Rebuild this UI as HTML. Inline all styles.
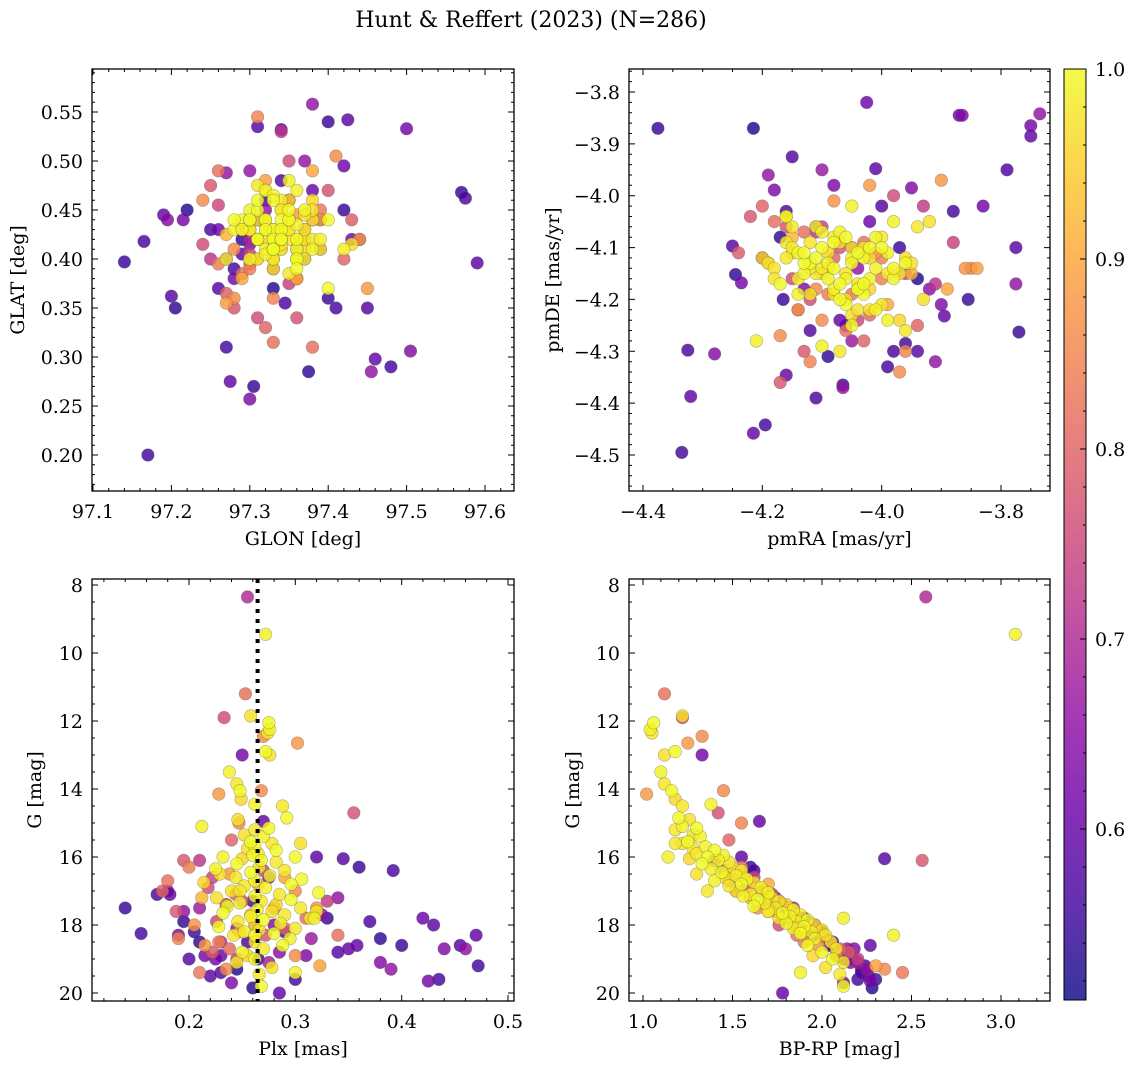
<!DOCTYPE html>
<html>
<head>
<meta charset="utf-8">
<style>
html,body{margin:0;padding:0;background:#fff;}
svg{display:block;}
text{font-family:"DejaVu Serif","Liberation Serif",serif;fill:#000;}
</style>
</head>
<body>
<svg id="fig" xmlns="http://www.w3.org/2000/svg" width="1136" height="1068" viewBox="0 0 1136 1068">
<text x="531" y="27" font-size="22" text-anchor="middle">Hunt &amp; Reffert (2023) (N=286)</text>
</svg>
<script>
// ---- data: per-star values (same order in every array) ----
const prob = [
0.55,0.56,0.57,0.60,0.64,0.58,0.54,0.62,0.53,0.60,
0.56,0.63,0.55,0.58,0.60,0.57,0.54,0.66,0.55,0.61,
0.59,0.56,0.64,0.58,0.66,0.60,0.56,0.62,0.64,0.55,
0.57,0.59,0.66,0.62,0.60,0.66,0.55,0.62,0.58,0.66,
0.63,0.57,0.68,0.61,0.54,0.65,0.59,0.67,0.56,0.62,
0.58,0.64,0.55,0.60,0.66,0.53,0.61,0.67,0.57,0.63,
0.70,0.82,0.76,0.86,0.88,0.86,0.88,0.77,0.85,0.80,
0.78,0.84,0.88,0.74,0.82,0.90,0.76,0.86,0.80,0.92,
0.73,0.84,0.88,0.78,0.91,0.82,0.75,0.87,0.80,0.90,
0.77,0.85,0.72,0.88,0.81,0.79,0.86,0.74,0.89,0.83,
0.72,0.80,0.87,0.76,0.84,0.90,0.78,0.82,0.86,0.75,
0.99,0.97,1.0,0.99,0.98,1.0,0.97,0.99,0.98,1.0,
0.96,0.99,0.98,1.0,0.97,0.99,1.0,0.98,0.97,0.99,
1.0,0.98,0.99,0.97,1.0,0.98,0.99,1.0,0.96,0.99,
0.98,1.0,0.97,0.99,0.98,1.0,0.97,0.99,0.98,1.0,
0.99,0.96,1.0,0.98,0.99,0.97,1.0,0.98,0.99,0.97,
1.0,0.98,0.99,0.96,1.0,0.98,0.99,0.97,1.0,0.98,
0.99,0.97,1.0,0.98,0.99,0.96,1.0,0.98,0.97,0.99,
1.0,0.98,0.99,0.97,1.0,0.98,0.99,0.96,1.0,0.98,
0.97,0.99,0.98,1.0,0.99,0.98,0.99,0.97,0.98,0.99];
const glon = [
97.14,97.17,97.165,97.19,97.195,97.20,97.205,97.215,97.22,97.275,
97.27,97.30,97.305,97.31,97.34,97.345,97.375,97.38,97.40,97.42,
97.425,97.41,97.44,97.45,97.455,97.46,97.48,97.50,97.505,97.57,
97.575,97.59,97.27,97.28,97.29,97.30,97.40,97.43,97.26,97.32,
97.37,97.25,97.33,97.38,97.29,97.36,97.31,97.39,97.28,97.35,
97.34,97.30,97.42,97.27,97.37,97.33,97.26,97.39,97.32,97.36,
97.30,97.26,97.35,97.24,97.45,97.28,97.39,97.36,97.31,97.42,
97.25,97.33,97.27,97.38,97.29,97.36,97.24,97.41,97.32,97.27,
97.35,97.30,97.44,97.28,97.34,97.38,97.26,97.31,97.37,97.29,
97.40,97.33,97.25,97.36,97.30,97.43,97.28,97.35,97.32,97.39,
97.34,97.27,97.37,97.31,97.26,97.38,97.29,97.33,97.36,97.30,
97.33,97.35,97.31,97.36,97.34,97.32,97.38,97.30,97.35,97.33,
97.37,97.29,97.34,97.36,97.32,97.39,97.31,97.35,97.33,97.30,
97.36,97.34,97.38,97.32,97.35,97.31,97.37,97.33,97.29,97.36,
97.34,97.40,97.32,97.35,97.30,97.33,97.38,97.31,97.36,97.34,
97.28,97.35,97.33,97.37,97.32,97.30,97.36,97.34,97.42,97.31,
97.35,97.33,97.29,97.38,97.34,97.32,97.36,97.30,97.35,97.33,
97.37,97.31,97.34,97.39,97.32,97.36,97.28,97.35,97.33,97.30,
97.34,97.37,97.32,97.35,97.31,97.38,97.33,97.36,97.30,97.34,
97.43,97.27,97.35,97.40,97.33,97.31,97.36,97.37,97.34,97.32];
const glat = [
0.397,0.20,0.418,0.445,0.44,0.362,0.35,0.44,0.45,0.275,
0.31,0.257,0.27,0.535,0.532,0.355,0.285,0.558,0.54,0.495,
0.542,0.35,0.42,0.35,0.285,0.298,0.29,0.533,0.306,0.468,
0.462,0.396,0.488,0.38,0.405,0.49,0.36,0.42,0.37,0.45,
0.40,0.43,0.39,0.47,0.42,0.38,0.44,0.41,0.39,0.46,
0.48,0.415,0.45,0.40,0.50,0.37,0.43,0.44,0.46,0.41,
0.42,0.49,0.50,0.46,0.37,0.36,0.44,0.34,0.545,0.40,
0.475,0.40,0.355,0.44,0.385,0.38,0.415,0.505,0.33,0.425,
0.46,0.39,0.42,0.35,0.41,0.31,0.455,0.40,0.43,0.38,
0.47,0.36,0.40,0.445,0.395,0.44,0.41,0.375,0.48,0.45,
0.53,0.365,0.42,0.34,0.395,0.49,0.43,0.315,0.38,0.405,
0.43,0.44,0.42,0.41,0.45,0.43,0.44,0.40,0.42,0.46,
0.41,0.44,0.43,0.40,0.47,0.42,0.45,0.43,0.39,0.44,
0.42,0.46,0.41,0.43,0.44,0.40,0.45,0.42,0.43,0.47,
0.41,0.44,0.42,0.48,0.43,0.41,0.45,0.42,0.40,0.44,
0.43,0.46,0.41,0.42,0.44,0.43,0.39,0.45,0.41,0.42,
0.44,0.40,0.43,0.46,0.42,0.44,0.41,0.43,0.45,0.42,
0.40,0.44,0.43,0.41,0.47,0.42,0.44,0.43,0.40,0.45,
0.42,0.43,0.41,0.44,0.46,0.42,0.43,0.40,0.44,0.42,
0.415,0.40,0.385,0.37,0.465,0.475,0.435,0.445,0.415,0.405];
const pmra = [
-4.375,-4.335,-4.325,-4.32,-4.28,-4.25,-4.245,-4.235,-4.215,-4.215,
-4.195,-4.18,-4.165,-4.15,-4.16,-4.11,-4.09,-4.065,-4.065,-4.025,
-4.01,-3.96,-3.95,-3.94,-3.91,-3.895,-3.88,-3.87,-3.865,-3.855,
-3.79,-3.775,-3.775,-3.75,-3.75,-3.735,-3.77,-3.83,-4.12,-4.04,
-4.08,-3.98,-4.14,-4.02,-4.17,-3.92,-4.06,-4.10,-3.99,-4.20,
-4.00,-4.13,-3.97,-4.07,-4.19,-3.94,-4.11,-4.05,-4.16,-3.90,
-4.05,-4.18,-4.12,-3.85,-4.02,-4.10,-3.90,-4.16,-3.96,-4.08,
-4.22,-4.00,-4.14,-3.88,-4.06,-4.19,-3.98,-4.11,-4.03,-4.15,
-3.93,-4.09,-4.01,-4.17,-3.95,-4.13,-4.04,-3.86,-4.20,-3.99,
-4.07,-4.12,-3.91,-4.16,-4.02,-4.24,-3.97,-4.10,-3.84,-4.05,
-4.11,-3.94,-4.08,-4.15,-4.00,-3.89,-4.13,-4.03,-4.17,-3.96,
-4.05,-4.10,-4.02,-4.08,-4.00,-4.12,-4.06,-3.98,-4.14,-4.04,
-4.09,-4.01,-4.16,-4.07,-3.96,-4.11,-4.03,-4.18,-4.05,-3.99,
-4.13,-4.08,-4.02,-4.15,-4.06,-3.97,-4.10,-4.04,-4.20,-4.01,
-4.12,-4.07,-3.95,-4.09,-4.03,-4.17,-4.05,-3.99,-4.11,-4.06,
-4.14,-4.02,-4.08,-3.94,-4.04,-4.19,-4.10,-4.00,-4.13,-4.07,
-4.03,-4.16,-3.98,-4.09,-4.05,-4.12,-4.01,-4.08,-3.96,-4.15,
-4.06,-4.04,-4.11,-3.99,-4.07,-4.02,-4.14,-4.10,-3.93,-4.05,
-4.08,-4.18,-4.03,-4.12,-4.00,-4.06,-4.09,-3.97,-4.13,-4.04,
-3.92,-4.21,-4.07,-4.16,-4.05,-3.96,-4.10,-4.02,-4.15,-3.98];
const pmde = [
-3.87,-4.495,-4.298,-4.387,-4.305,-4.097,-4.152,-4.168,-3.87,-4.458,
-4.442,-3.989,-4.20,-3.925,-4.346,-4.39,-4.31,-4.37,-4.365,-3.82,
-3.948,-4.285,-3.985,-4.30,-4.32,-4.232,-4.03,-3.845,-3.845,-4.20,
-3.95,-4.10,-4.17,-3.865,-3.885,-3.842,-4.263,-4.02,-4.26,-4.14,
-3.98,-4.30,-4.22,-4.05,-4.08,-4.18,-4.25,-3.95,-4.33,-4.12,
-4.02,-4.18,-4.10,-4.24,-3.96,-4.16,-4.06,-4.28,-4.03,-4.21,
-4.10,-4.05,-4.20,-4.14,-3.98,-4.24,-3.97,-4.06,-4.30,-4.12,
-4.04,-4.16,-4.22,-4.09,-4.26,-4.13,-4.00,-4.18,-4.28,-4.08,
-4.02,-4.19,-4.11,-4.36,-4.15,-4.07,-4.24,-4.14,-4.02,-4.21,
-4.10,-4.32,-4.17,-4.04,-4.23,-4.11,-4.34,-4.06,-4.14,-4.19,
-4.07,-4.25,-4.01,-4.16,-4.12,-4.18,-4.30,-4.09,-4.27,-4.15,
-4.12,-4.15,-4.10,-4.18,-4.08,-4.13,-4.20,-4.05,-4.16,-4.11,
-4.14,-4.22,-4.09,-4.17,-4.12,-4.06,-4.19,-4.14,-4.10,-4.24,
-4.13,-4.08,-4.16,-4.11,-4.21,-4.15,-4.07,-4.18,-4.12,-4.14,
-4.09,-4.20,-4.13,-4.16,-4.10,-4.17,-4.23,-4.11,-4.15,-4.08,
-4.19,-4.12,-4.14,-4.06,-4.18,-4.13,-4.10,-4.21,-4.15,-4.09,
-4.17,-4.12,-4.16,-4.11,-4.25,-4.14,-4.08,-4.19,-4.13,-4.10,
-4.16,-4.22,-4.12,-4.15,-4.07,-4.18,-4.11,-4.14,-4.20,-4.13,
-4.09,-4.16,-4.12,-4.19,-4.10,-4.15,-4.13,-4.24,-4.11,-4.17,
-4.05,-4.28,-4.30,-4.04,-4.02,-4.26,-4.29,-4.22,-4.06,-4.14];
const plx = [
0.14,0.155,0.17,0.182,0.19,0.20,0.21,0.225,0.26,0.285,
0.30,0.31,0.33,0.34,0.35,0.37,0.38,0.39,0.40,0.42,
0.43,0.435,0.44,0.455,0.46,0.47,0.472,0.425,0.38,0.36,
0.392,0.32,0.34,0.25,0.27,0.195,0.205,0.215,0.23,0.245,
0.235,0.255,0.275,0.18,0.195,0.285,0.22,0.315,0.26,0.275,
0.345,0.28,0.265,0.358,0.325,0.245,0.23,0.21,0.29,0.24,
0.255,0.253,0.233,0.270,0.302,0.268,0.228,0.355,0.247,0.240,
0.195,0.200,0.238,0.222,0.180,0.265,0.218,0.300,0.244,0.212,
0.330,0.235,0.280,0.188,0.258,0.310,0.226,0.205,0.290,0.248,
0.272,0.190,0.230,0.215,0.238,0.222,0.300,0.245,0.323,0.210,
0.210,0.175,0.320,0.262,0.228,0.290,0.250,0.340,0.235,0.270,
0.272,0.258,0.275,0.276,0.274,0.272,0.276,0.238,0.245,0.248,
0.249,0.262,0.288,0.292,0.246,0.212,0.275,0.262,0.252,0.270,
0.258,0.278,0.262,0.255,0.282,0.265,0.260,0.300,0.250,0.268,
0.282,0.245,0.266,0.225,0.290,0.258,0.229,0.276,0.244,0.306,
0.262,0.214,0.296,0.252,0.272,0.240,0.322,0.285,0.262,0.226,
0.296,0.268,0.248,0.282,0.236,0.305,0.264,0.278,0.232,0.290,
0.258,0.314,0.270,0.246,0.286,0.262,0.228,0.300,0.266,0.252,
0.280,0.242,0.295,0.262,0.288,0.270,0.250,0.255,0.262,0.245,
0.278,0.300,0.266,0.268,0.318,0.320,0.232,0.305,0.248,0.262];
const gmag = [
17.5,18.25,17.1,17.1,18.3,19.0,18.5,19.0,19.85,20.0,
19.6,18.9,17.8,18.8,18.7,17.9,18.4,19.3,18.6,17.8,
18.0,19.6,18.7,18.6,18.7,18.3,19.2,19.65,19.1,16.3,
16.4,16.0,17.2,13.0,14.95,17.6,18.2,18.9,19.4,18.1,
17.4,18.5,19.1,17.0,17.9,18.8,19.5,18.4,17.3,16.6,
16.05,18.0,19.0,18.6,17.7,19.3,18.9,17.5,18.2,19.7,
8.35,11.2,11.9,12.45,12.65,14.05,14.15,14.7,15.0,15.5,
16.1,16.3,16.5,16.6,16.7,16.8,16.9,17.0,17.1,17.2,
17.3,17.4,17.5,17.6,17.7,17.8,17.9,18.0,18.1,18.2,
18.3,18.4,18.5,18.6,18.7,18.8,18.9,19.0,19.2,19.4,
16.1,17.0,17.5,18.0,18.5,16.6,17.3,18.3,19.3,16.4,
9.45,11.85,12.05,12.25,12.35,12.9,13.0,13.5,13.85,14.05,
14.3,14.45,14.5,14.85,14.9,15.1,15.15,15.2,15.35,15.4,
15.55,15.6,15.7,15.75,15.8,15.9,15.95,16.0,16.05,16.1,
16.15,16.2,16.3,16.35,16.4,16.45,16.5,16.55,16.6,16.65,
16.7,16.75,16.8,16.85,16.9,17.0,17.05,17.1,17.15,17.2,
17.25,17.3,17.35,17.4,17.45,17.5,17.55,17.6,17.65,17.7,
17.75,17.8,17.85,17.9,17.95,18.0,18.05,18.1,18.15,18.2,
18.25,18.3,18.4,18.5,18.6,18.7,18.8,18.9,19.0,19.1,
19.25,19.4,19.45,19.8,17.8,17.6,16.0,15.6,17.0,18.3];
const bprp = [
1.82,2.00,1.72,1.70,1.98,2.15,2.05,2.12,2.28,1.78,
2.20,2.12,1.90,2.10,2.08,1.92,2.02,2.25,2.06,1.86,
1.96,2.30,2.18,2.04,2.14,1.95,2.24,2.27,2.16,1.60,
1.62,1.55,1.74,1.33,1.65,1.80,2.00,2.10,2.22,1.94,
1.78,2.06,2.20,1.68,1.88,2.14,2.26,2.02,1.76,1.58,
2.35,1.92,2.18,2.27,1.82,2.22,2.08,1.84,1.98,2.12,
2.58,1.12,1.22,1.33,1.25,1.45,1.02,1.42,1.55,1.48,
2.56,1.55,1.50,1.62,1.48,1.70,1.58,1.66,1.72,1.60,
1.75,1.68,1.82,1.74,1.85,1.78,1.90,1.84,1.95,1.88,
2.00,1.92,2.05,1.98,2.10,2.15,2.08,2.20,2.30,2.45,
1.40,1.52,1.64,1.76,1.90,1.56,1.70,1.86,2.35,1.45,
3.08,1.22,1.06,1.04,1.05,1.18,1.12,1.10,1.12,1.16,
1.18,1.38,1.22,1.20,1.26,1.22,1.30,1.18,1.28,1.32,
1.25,1.18,1.35,1.28,1.40,1.30,1.45,1.36,1.26,1.42,
1.48,1.33,1.50,1.38,1.55,1.44,1.30,1.52,1.46,1.58,
1.40,1.62,1.55,1.48,1.66,1.52,1.70,1.60,1.56,1.72,
1.64,1.76,1.68,1.80,1.62,1.74,1.84,1.70,1.78,1.88,
1.82,1.76,1.92,1.86,1.80,1.96,1.90,1.84,2.00,1.94,
1.88,2.02,1.96,2.05,1.92,2.08,2.00,1.95,2.06,2.12,
2.02,1.88,2.10,2.12,2.12,1.70,1.14,1.22,1.36,2.40];
const plxLine = 0.2645;
const cbTicks = [0.6,0.7,0.8,0.9,1.0];
const vmin = 0.51, vmax = 1.0;

// ---- helpers ----
const NS = 'http://www.w3.org/2000/svg';
const svg = document.getElementById('fig');
function mk(tag, attrs, parent){
  const e = document.createElementNS(NS, tag);
  for (const k in attrs) e.setAttribute(k, attrs[k]);
  (parent||svg).appendChild(e);
  return e;
}
function lin(v0,p0,v1,p1){
  const k=(p1-p0)/(v1-v0);
  const f=v=>p0+(v-v0)*k;
  f.inv=p=>v0+(p-p0)/k;
  return f;
}
const PL = [[0,'#0d0887'],[0.1,'#41049d'],[0.2,'#6a00a8'],[0.3,'#8f0da4'],[0.4,'#b12a90'],[0.5,'#cc4778'],[0.6,'#e16462'],[0.7,'#f2844b'],[0.8,'#fca636'],[0.9,'#fcce25'],[1.0,'#f0f921']];
function hex(h){return [parseInt(h.slice(1,3),16),parseInt(h.slice(3,5),16),parseInt(h.slice(5,7),16)];}
function plasma(t){
  t=Math.max(0,Math.min(1,t));
  for(let i=0;i<PL.length-1;i++){
    if(t<=PL[i+1][0]){
      const a=hex(PL[i][1]), b=hex(PL[i+1][1]);
      const u=(t-PL[i][0])/(PL[i+1][0]-PL[i][0]);
      return 'rgb('+a.map((c,j)=>Math.round(c+(b[j]-c)*u)).join(',')+')';
    }
  }
  return PL[PL.length-1][1];
}
function fmt(v,d){ const s=v.toFixed(d); return s.replace('-','\u2212'); }
function range(a,b,step){
  const out=[]; const s=Math.ceil(a/step-1e-6);
  for(let i=s;i*step<=b+1e-9;i++) out.push(+(i*step).toFixed(6));
  return out;
}

const order = prob.map((p,i)=>i).sort((a,b)=>prob[a]-prob[b]);
const FS = 19;

function panel(cfg){
  const g = mk('g',{});
  
  
  const [x0,y0,x1,y1]=cfg.box;
  const xs=cfg.xs, ys=cfg.ys;
  const clipId='clip-'+cfg.name;
  const cp=mk('clipPath',{id:clipId},g);
  mk('rect',{x:x0,y:y0,width:x1-x0,height:y1-y0},cp);
  const pts=mk('g',{'clip-path':'url(#'+clipId+')'},g);
  
  
  for(const i of order){
    const c=mk('circle',{cx:xs(cfg.xv[i]).toFixed(1),cy:ys(cfg.yv[i]).toFixed(1),r:6.3,fill:plasma((prob[i]-vmin)/(vmax-vmin)),'fill-opacity':0.82,stroke:'#555','stroke-opacity':0.45,'stroke-width':0.6},pts);
    
    
  }
  if(cfg.extra) cfg.extra(pts);
  const xmin=Math.min(xs.inv(x0),xs.inv(x1)), xmax=Math.max(xs.inv(x0),xs.inv(x1));
  const ymin=Math.min(ys.inv(y0),ys.inv(y1)), ymax=Math.max(ys.inv(y0),ys.inv(y1));
  let d='';
  for(const v of range(xmin,xmax,cfg.xminor)){const x=xs(v).toFixed(1); d+=`M${x},${y1}v-3M${x},${y0}v3`;}
  for(const v of range(ymin,ymax,cfg.yminor)){const y=ys(v).toFixed(1); d+=`M${x0},${y}h3M${x1},${y}h-3`;}
  for(const v of range(xmin,xmax,cfg.xmajor)){const x=xs(v).toFixed(1); d+=`M${x},${y1}v-6M${x},${y0}v6`;
    const t=mk('text',{x:x,y:y1+27,'font-size':FS,'text-anchor':'middle'},g); t.textContent=fmt(v,cfg.xd);
     }
  for(const v of range(ymin,ymax,cfg.ymajor)){const y=ys(v).toFixed(1); d+=`M${x0},${y}h6M${x1},${y}h-6`;
    const t=mk('text',{x:x0-9,y:+y+7,'font-size':FS,'text-anchor':'end'},g); t.textContent=fmt(v,cfg.yd);
     }
  mk('path',{d:d,stroke:'#000','stroke-width':1,fill:'none'},g);
  const fr=mk('rect',{x:x0,y:y0,width:x1-x0,height:y1-y0,fill:'none',stroke:'#000','stroke-width':1.3},g);
  
  
  const xl=mk('text',{x:(x0+x1)/2,y:y1+54,'font-size':FS,'text-anchor':'middle'},g); xl.textContent=cfg.xlabel;
   
  const yx=cfg.ylx, yy=(y0+y1)/2;
  const yl=mk('text',{x:yx,y:yy,'font-size':FS,'text-anchor':'middle',transform:`rotate(-90 ${yx} ${yy})`},g); yl.textContent=cfg.ylabel;
   
}

panel({name:'glon-glat-panel',box:[92,69,514,491],xs:lin(97.1,93,97.2,171.4),ys:lin(0.55,112,0.20,455),
  xv:glon,yv:glat,xmajor:0.1,xminor:0.02,ymajor:0.05,yminor:0.01,xd:1,yd:2,xlabel:'GLON [deg]',ylabel:'GLAT [deg]',ylx:24});
panel({name:'pm-panel',box:[629,69,1050,491],xs:lin(-4.4,643,-3.8,1001),ys:lin(-3.8,92,-4.5,455),
  xv:pmra,yv:pmde,xmajor:0.2,xminor:0.05,ymajor:0.1,yminor:0.02,xd:1,yd:1,xlabel:'pmRA [mas/yr]',ylabel:'pmDE [mas/yr]',ylx:559});
const gys=lin(8,585,20,993);
panel({name:'plx-g-panel',box:[92,579,514,1001],xs:lin(0.2,189,0.5,508),ys:gys,
  xv:plx,yv:gmag,xmajor:0.1,xminor:0.02,ymajor:2,yminor:0.5,xd:1,yd:0,xlabel:'Plx [mas]',ylabel:'G [mag]',ylx:41,
  extra:(g)=>{const x=(189+(plxLine-0.2)*1063.3).toFixed(1);
    const l=mk('line',{x1:x,x2:x,y1:579,y2:1001,stroke:'#000','stroke-width':4,'stroke-dasharray':'4 6'},g);
     }});
panel({name:'cmd-panel',box:[629,579,1050,1001],xs:lin(1.0,643,3.0,1001),ys:gys,
  xv:bprp,yv:gmag,xmajor:0.5,xminor:0.1,ymajor:2,yminor:0.5,xd:1,yd:0,xlabel:'BP-RP [mag]',ylabel:'G [mag]',ylx:579});

// colorbar
const cb=mk('g',{});


const defs=mk('defs',{},cb);
const lg=mk('linearGradient',{id:'cbgrad',x1:0,y1:1,x2:0,y2:0},defs);
for(let k=0;k<=20;k++){const t=k/20; mk('stop',{offset:t,'stop-color':plasma(t)},lg);}
mk('rect',{x:1064,y:69,width:22,height:931,fill:'url(#cbgrad)','fill-opacity':0.82},cb);
mk('rect',{x:1064,y:69,width:22,height:931,fill:'none',stroke:'#000','stroke-width':1},cb);
const cbs=lin(1.0,69,0.9,259);
let cd='';
for(const v of range(vmin,vmax,0.02)){const y=cbs(v).toFixed(1); cd+=`M1086,${y}h-3`;}
mk('path',{d:cd,stroke:'#000','stroke-width':1,fill:'none'},cb);
for(const v of cbTicks){
  const y=cbs(v);
  mk('path',{d:`M1086,${y.toFixed(1)}h-6`,stroke:'#000','stroke-width':1},cb);
  const t=mk('text',{x:1095,y:y+7,'font-size':FS},cb); t.textContent=v.toFixed(1);
   
}
</script>
</body>
</html>
